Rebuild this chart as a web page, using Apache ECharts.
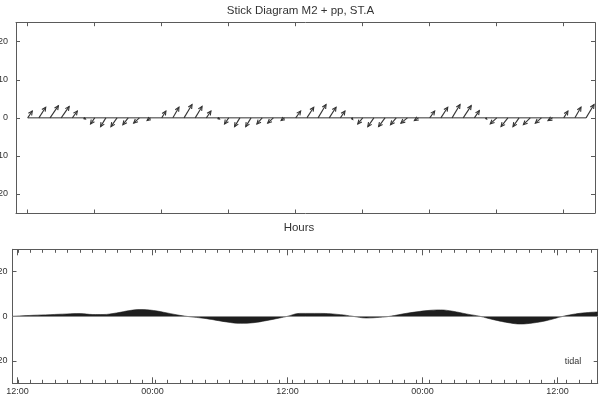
<!DOCTYPE html>
<html>
<head>
<meta charset="utf-8">
<script src="https://cdn.jsdelivr.net/npm/echarts@6/dist/echarts.min.js"></script>
<style>html,body{margin:0;padding:0;background:#fff}#c{width:601px;height:403px}</style>
</head>
<body>
<div id="c"></div>
<script>
// ---- data ----
var stickHours = [0,1,2,3,4,5,6,7,8,9,10,11,12,13,14,15,16,17,18,19,20,21,22,23,24,25,26,27,28,29,30,31,32,33,34,35,36,37,38,39,40,41,42,43,44,45,46,47,48,49,50];
var stickU = [1.2,1.8,2.2,2.1,1.3,0.5,-1.1,-1.4,-1.6,-1.4,-1.5,-0.9,
              1.1,1.6,2.1,1.8,1.2,0.5,-1.1,-1.4,-1.4,-1.4,-1.5,-0.9,
              1.3,1.8,2.1,1.8,1.2,0.3,-1.3,-1.6,-1.7,-1.5,-1.7,-1.1,
              1.3,1.8,2.1,2.1,1.3,0.3,-1.7,-1.8,-1.6,-1.8,-1.6,-1.2,
              1.1,1.6,2.1];
var stickV = [1.8,2.8,3.2,3.0,1.8,-0.3,-1.6,-2.3,-2.3,-1.8,-1.4,-0.7,
              1.8,2.8,3.5,3.0,1.8,-0.3,-1.6,-2.3,-2.3,-1.6,-1.4,-0.7,
              1.8,2.8,3.5,2.8,1.8,-0.4,-1.6,-2.3,-2.3,-1.8,-1.4,-0.7,
              1.8,2.8,3.5,3.2,1.9,-0.3,-1.6,-2.3,-2.3,-1.8,-1.4,-0.7,
              1.8,2.8,3.5];
var topTickHours = [0,6,12,18,24,30,36,42,48];
var topYTicks = [-20,-10,0,10,20];

var tidalHours = [-0.44,1.4,2.9,4.4,5.6,6.7,7.6,8.8,10,10.9,12.1,13.3,14.4,15,16.8,18.6,19.8,21,22.1,23.3,24,25.1,26.9,28.7,29.8,31,32.2,33.1,34.6,36.4,37.6,38.7,39.9,41.1,42.3,43.8,44.7,45.8,47,48.5,50,51.57];
var tidalValues = [0,0.45,0.75,1.05,1.2,0.8,0.8,1.5,2.6,3.0,2.6,1.5,0.45,0,-1.05,-2.55,-3.15,-2.85,-1.95,-0.75,0,1.3,1.3,0.75,0,-0.75,-0.45,0,1.35,2.55,2.85,2.25,1.05,0,-1.5,-3.0,-3.45,-3.0,-1.95,0,1.35,1.95];
var bottomTickHours = [0,12,24,36,48];
var bottomTickLabels = ['12:00','00:00','12:00','00:00','12:00'];
var bottomYTicks = [-20,0,20];

// ---- chart ----
var FONT = 'Liberation Sans, Arial, sans-serif';
var AX = '#5a5a5a';
var TXT = '#333';
var topMin = -1.048, topMax = 50.8;
var botMin = -0.44, botMax = 51.57;

var minorTicks = [];
for (var m = 0.03; m < botMax; m += 1.108) minorTicks.push(+m.toFixed(3));

function xAx(grid, pos, min, max, ticks, len, labels, fmt) {
  return {
    type: 'value', gridIndex: grid, position: pos, min: min, max: max,
    axisLine: {show: true, onZero: false, lineStyle: {color: AX, width: 1}},
    axisTick: {show: true, inside: true, length: len, customValues: ticks, lineStyle: {color: AX}},
    axisLabel: labels ? {show: true, customValues: ticks, formatter: fmt, fontSize: 9, color: TXT, fontFamily: FONT, margin: 4} : {show: false},
    splitLine: {show: false}
  };
}
function yAx(grid, pos, min, max, ticks, labels, margin) {
  return {
    type: 'value', gridIndex: grid, position: pos, min: min, max: max,
    axisLine: {show: true, onZero: false, lineStyle: {color: AX, width: 1}},
    axisTick: {show: true, inside: true, length: 4, customValues: ticks, lineStyle: {color: AX}},
    axisLabel: labels ? {show: true, customValues: ticks, fontSize: 9, color: TXT, fontFamily: FONT, margin: margin} : {show: false},
    splitLine: {show: false}
  };
}

var stickData = stickHours.map(function (h, i) { return [h, stickU[i], stickV[i]]; });
var tidalData = tidalHours.map(function (h, i) { return [h, tidalValues[i]]; });

var chart = echarts.init(document.getElementById('c'), null, {renderer: 'canvas'});
chart.setOption({
  animation: false,
  backgroundColor: '#fff',
  textStyle: {fontFamily: FONT},
  title: [
    {text: 'Stick Diagram M2 + pp, ST.A', left: 'center', top: 0, textStyle: {fontSize: 11.5, fontWeight: 'normal', color: TXT, fontFamily: FONT}}
  ],
  graphic: [
    {type: 'text', x: 299, y: 228, style: {text: 'Hours', fontSize: 11.5, fill: TXT, fontFamily: FONT, textAlign: 'center', textVerticalAlign: 'middle'}},
    {type: 'text', x: 573, y: 362, style: {text: 'tidal', fontSize: 9, fill: TXT, fontFamily: FONT, textAlign: 'center', textVerticalAlign: 'middle'}}
  ],
  grid: [
    {left: 16, top: 22.7, right: 6, bottom: 190, containLabel: false, outerBoundsMode: 'none'},
    {left: 12.5, top: 249.3, right: 3.3, bottom: 19.7, containLabel: false, outerBoundsMode: 'none'}
  ],
  xAxis: [
    xAx(0, 'bottom', topMin, topMax, topTickHours, 3.5, false),
    xAx(0, 'top', topMin, topMax, topTickHours, 3.5, false),
    xAx(1, 'bottom', botMin, botMax, bottomTickHours, 6, true, function (v) { return bottomTickLabels[bottomTickHours.indexOf(Math.round(v))]; }),
    xAx(1, 'bottom', botMin, botMax, minorTicks, 3.5, false),
    xAx(1, 'top', botMin, botMax, bottomTickHours, 6, false),
    xAx(1, 'top', botMin, botMax, minorTicks, 3.5, false)
  ],
  yAxis: [
    yAx(0, 'left', -25, 25, topYTicks, true, 8),
    yAx(0, 'right', -25, 25, topYTicks, false),
    yAx(1, 'left', -30, 30, bottomYTicks, true, 5),
    yAx(1, 'right', -30, 30, bottomYTicks, false)
  ],
  series: [
    {
      type: 'line', xAxisIndex: 0, yAxisIndex: 0, symbol: 'none',
      data: [[stickHours[0], 0], [stickHours[stickHours.length - 1], 0]],
      lineStyle: {color: '#333', width: 1}, z: 2
    },
    {
      type: 'custom', xAxisIndex: 0, yAxisIndex: 0, data: stickData, z: 3,
      renderItem: function (params, api) {
        var t = api.value(0), u = api.value(1), v = api.value(2);
        var p0 = api.coord([t, 0]);
        var pv = api.coord([t, v]);
        var unit = api.size([0, 1])[1];
        var x1 = p0[0] + u * unit, y1 = pv[1];
        var a = Math.atan2(y1 - p0[1], x1 - p0[0]);
        var len = Math.sqrt((x1 - p0[0]) * (x1 - p0[0]) + (y1 - p0[1]) * (y1 - p0[1]));
        var L = Math.min(4.5, len * 0.9);
        var s = 0.45;
        var st = {stroke: '#333', lineWidth: 1.1, fill: null};
        return {
          type: 'group',
          children: [
            {type: 'line', shape: {x1: p0[0], y1: p0[1], x2: x1, y2: y1}, style: st},
            {type: 'polyline', shape: {points: [
              [x1 - L * Math.cos(a - s), y1 - L * Math.sin(a - s)],
              [x1, y1],
              [x1 - L * Math.cos(a + s), y1 - L * Math.sin(a + s)]
            ]}, style: st}
          ]
        };
      }
    },
    {
      type: 'line', xAxisIndex: 2, yAxisIndex: 2, symbol: 'none', smooth: 0.4,
      data: tidalData,
      lineStyle: {color: '#1e1e1e', width: 0.6},
      areaStyle: {color: '#1e1e1e', opacity: 1, origin: 0},
      markLine: {
        silent: true, symbol: 'none', label: {show: false},
        lineStyle: {color: '#8a8a8a', width: 1, type: 'solid'},
        data: [{yAxis: 0}]
      },
      z: 2
    }
  ]
});
</script>
</body>
</html>
